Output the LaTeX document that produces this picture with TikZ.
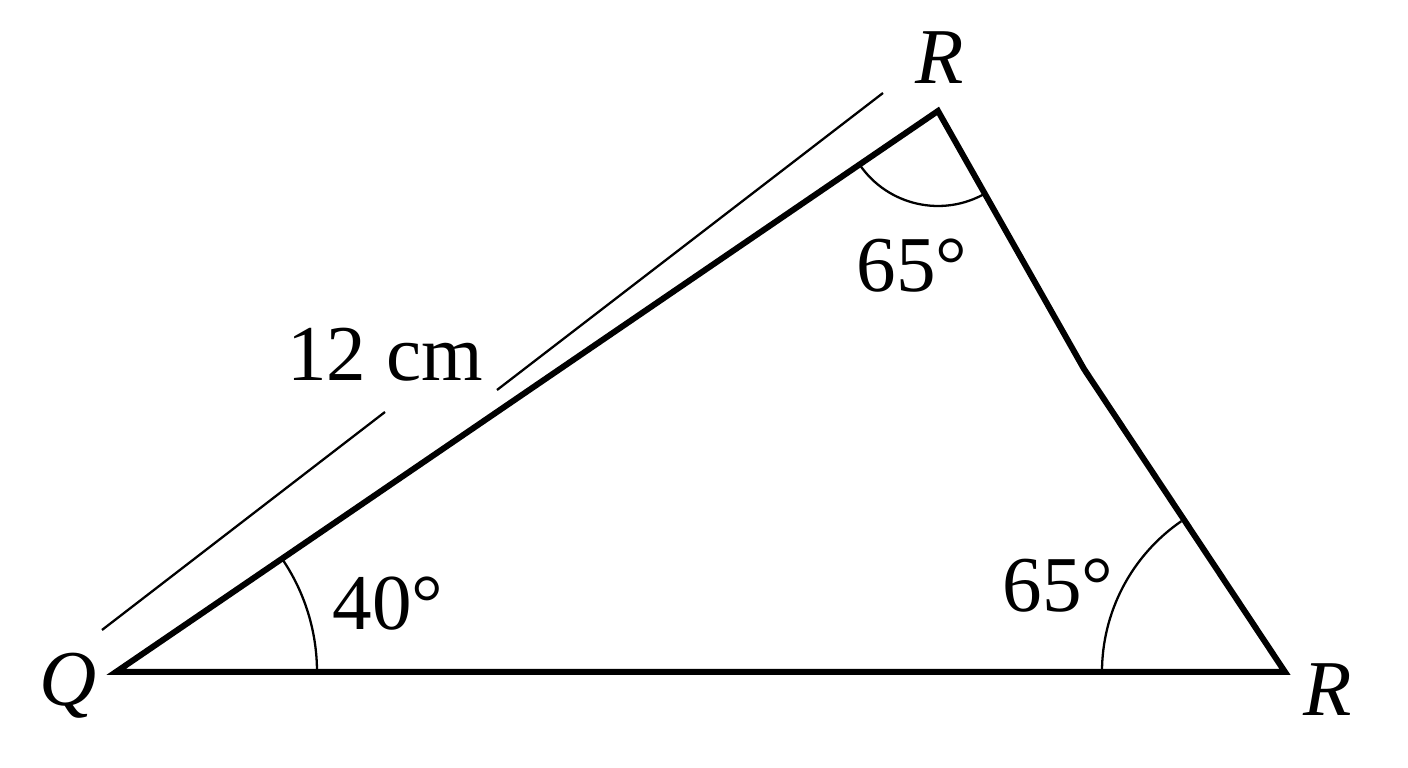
\documentclass[tikz,border=0pt]{standalone}
\usepackage{fontspec}
\setmainfont{Liberation Serif}
\begin{document}
\begin{tikzpicture}[x=0.01cm,y=-0.01cm,
  side/.style={line width=1.7pt, line join=miter},
  thin/.style={line width=0.65pt},
  lbl/.style={inner sep=0pt, font=\fontsize{22.5}{27}\selectfont}]
\useasboundingbox (0,0) rectangle (1408,768);
\coordinate (Q) at (116,672);
\coordinate (Rt) at (938,111);
\coordinate (Rb) at (1285,672);
\coordinate (K) at (1084,369);
\draw[side] (Q) -- (Rt) -- (K) -- (Rb) -- cycle;
% angle arcs (y axis points down, so angles are mirrored)
\draw[thin] (Q) ++(0:201) arc[start angle=0, end angle=-34.3, radius=201];
\draw[thin] (Rt) ++(145.7:95) arc[start angle=145.7, end angle=59.5, radius=95];
\draw[thin] (Rb) ++(180:183) arc[start angle=180, end angle=235.5, radius=183];
% dimension lines
\coordinate (d1) at (102,630);
\coordinate (d2) at (385,412);
\coordinate (d3) at (497,390);
\coordinate (d4) at (883,93);
\draw[thin] (d1) -- (d2);
\draw[thin] (d3) -- (d4);
% labels
\node[lbl] (lq) at (68,686) {\itshape Q};
\node[lbl] (lrt) at (940,58) {\itshape R};
\node[lbl] (lrb) at (1328,690) {\itshape R};
\node[lbl] (a40) at (388,604) {40°};
\node[lbl] (a65t) at (912,266) {65°};
\node[lbl] (a65b) at (1058,586) {65°};
\node[lbl] (len) at (385,355) {12 cm};
\end{tikzpicture}
\end{document}
